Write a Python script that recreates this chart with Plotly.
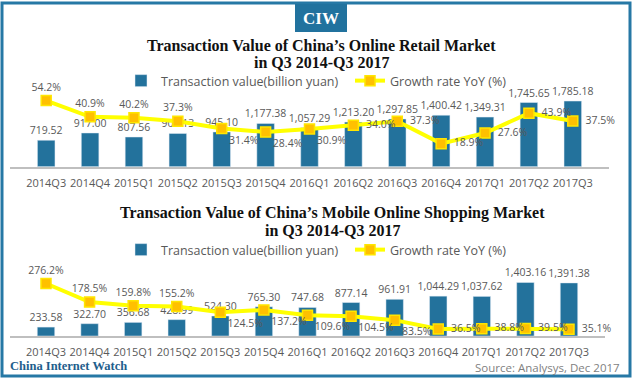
import plotly.graph_objects as go

quarters = ["2014Q3", "2014Q4", "2015Q1", "2015Q2", "2015Q3", "2015Q4", "2016Q1",
            "2016Q2", "2016Q3", "2016Q4", "2017Q1", "2017Q2", "2017Q3"]

retail_value = [719.52, 917.00, 807.56, 905.13, 945.10, 1177.38, 1057.29,
                1213.20, 1297.85, 1400.42, 1349.31, 1745.65, 1785.18]
retail_growth = [54.2, 40.9, 40.2, 37.3, 31.4, 28.4, 30.9, 34.0, 37.3, 18.9, 27.6, 43.9, 37.5]

mobile_value = [233.58, 322.70, 356.68, 428.99, 524.30, 765.30, 747.68,
                877.14, 961.91, 1044.29, 1037.62, 1403.16, 1391.38]
mobile_growth = [276.2, 178.5, 159.8, 155.2, 124.5, 137.2, 109.6, 104.5, 83.5, 36.5, 38.8, 39.5, 35.1]

retail_label_pos = ["top center"] * 4 + ["bottom right"] * 3 + ["middle right"] * 6
mobile_label_pos = ["top center"] * 4 + ["bottom right"] * 5 + ["middle right"] * 4

W, H = 634, 382
BAR = "#23729C"
GRAY = "#595959"
FONT = "Open Sans"
SERIF = "Liberation Serif"

def py(px):
    return 1 - px / H

def pxx(px):
    return px / W

fig = go.Figure()

def pct_labels(growth, label_pos):
    out = []
    for g, p in zip(growth, label_pos):
        pad = "\u00a0\u00a0" if p == "middle right" else ""
        out.append(f"{pad}{g:.1f}%")
    return out

def add_pair(values, growth, label_pos, xa, ya, ya2, leg):
    fig.add_trace(go.Bar(x=quarters, y=values, name="Transaction value(billion yuan)",
                         marker_color=BAR, texttemplate="%{y:,.2f}", textposition="outside",
                         constraintext="none", cliponaxis=False,
                         outsidetextfont=dict(family=FONT, size=10.5, color=GRAY),
                         xaxis=xa, yaxis=ya, legend=leg))
    fig.add_trace(go.Scatter(x=quarters, y=growth, name="Growth rate YoY (%)",
                             mode="lines+markers+text", line=dict(color="#FFFF00", width=4),
                             marker=dict(symbol="square", size=10, color="#FFC000",
                                         line=dict(color="#FFE600", width=1.5)),
                             text=pct_labels(growth, label_pos), texttemplate="%{text}",
                             textposition=label_pos, cliponaxis=False,
                             textfont=dict(family=FONT, size=10.5, color=GRAY),
                             xaxis=xa, yaxis=ya2, legend=leg))

add_pair(retail_value, retail_growth, retail_label_pos, "x", "y", "y2", "legend")
add_pair(mobile_value, mobile_growth, mobile_label_pos, "x2", "y3", "y4", "legend2")

xcommon = dict(showline=True, linecolor="#BFBFBF", linewidth=1.5, showgrid=False,
               zeroline=False, ticks="outside", ticklen=5, tickcolor="rgba(0,0,0,0)",
               tickfont=dict(family=FONT, size=11, color=GRAY), fixedrange=True)
yhidden = dict(showgrid=False, zeroline=False, showticklabels=False, showline=False,
               fixedrange=True)

legend_common = dict(orientation="h", xanchor="left", yanchor="middle",
                     font=dict(family=FONT, size=12.5, color=GRAY),
                     bgcolor="rgba(0,0,0,0)", entrywidth=184, entrywidthmode="pixels",
                     itemclick=False, itemdoubleclick=False, traceorder="normal")

fig.update_layout(
    width=W, height=H, margin=dict(l=0, r=0, t=0, b=0),
    paper_bgcolor="white", plot_bgcolor="white",
    bargap=0.6, showlegend=True,
    xaxis=dict(domain=[pxx(10), pxx(609)], anchor="y", **xcommon),
    yaxis=dict(domain=[py(166.7), py(90)], range=[0, 2086], anchor="x", **yhidden),
    yaxis2=dict(overlaying="y", range=[0, 62.9], anchor="x", side="right", **yhidden),
    xaxis2=dict(domain=[pxx(10), pxx(605)], anchor="y3", **xcommon),
    yaxis3=dict(domain=[py(336), py(262)], range=[0, 1939], anchor="x2", **yhidden),
    yaxis4=dict(overlaying="y3", range=[0, 389.5], anchor="x2", side="right", **yhidden),
    legend=dict(x=pxx(121), y=py(81), **legend_common),
    legend2=dict(x=pxx(121), y=py(250), **legend_common),
)

shapes = [
    dict(type="rect", xref="paper", yref="paper", x0=pxx(2), x1=pxx(630), y0=py(376), y1=py(3),
         line=dict(color="#2678A5", width=3), fillcolor="rgba(0,0,0,0)", layer="above"),
    dict(type="rect", xref="paper", yref="paper", x0=pxx(295), x1=pxx(347), y0=py(32), y1=py(4),
         line=dict(width=0), fillcolor="#21729E"),
]
annotations = [
    dict(text="<b>CIW</b>", x=pxx(321), y=py(19), font=dict(family=SERIF, size=17, color="white")),
    dict(text="<b>Transaction Value of China’s Online Retail Market</b>", x=pxx(322), y=py(46),
         font=dict(family=SERIF, size=16, color="#111111")),
    dict(text="<b>in Q3 2014-Q3 2017</b>", x=pxx(322), y=py(62),
         font=dict(family=SERIF, size=16, color="#111111")),
    dict(text="<b>Transaction Value of China’s Mobile Online Shopping Market</b>", x=pxx(333), y=py(213),
         font=dict(family=SERIF, size=16, color="#111111")),
    dict(text="<b>in Q3 2014-Q3 2017</b>", x=pxx(333), y=py(230),
         font=dict(family=SERIF, size=16, color="#111111")),
    dict(text="<b>China Internet Watch</b>", x=pxx(8), y=py(366), xanchor="left",
         font=dict(family=SERIF, size=12.5, color="#1E5E8C")),
    dict(text="Source: Analysys, Dec 2017", x=pxx(622), y=py(367), xanchor="right",
         font=dict(family=FONT, size=11.5, color="#7F7F7F")),
]
for a in annotations:
    a.setdefault("xanchor", "center")
    a.update(xref="paper", yref="paper", yanchor="middle", showarrow=False)

fig.update_layout(shapes=shapes, annotations=annotations)

fig.write_html("out.html", config={"displayModeBar": False},
               post_script="document.body.style.margin='0';document.body.style.padding='0';"
                           "document.documentElement.style.overflow='hidden';")
